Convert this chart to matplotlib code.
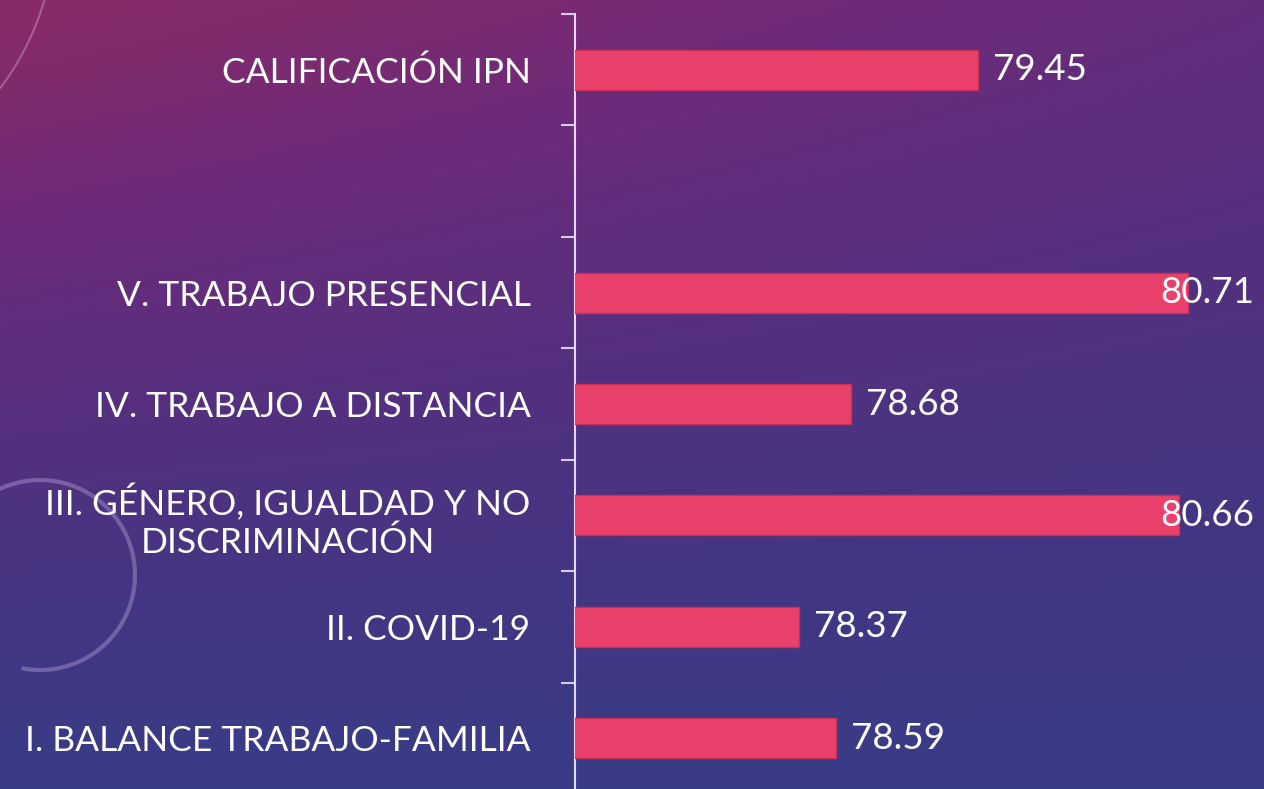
import numpy as np
import matplotlib.pyplot as plt
from matplotlib.colors import LinearSegmentedColormap

categories = ["I. BALANCE TRABAJO-FAMILIA", "II. COVID-19",
              "III. GÉNERO, IGUALDAD Y NO\nDISCRIMINACIÓN",
              "IV. TRABAJO A DISTANCIA", "V. TRABAJO PRESENCIAL", "",
              "CALIFICACIÓN IPN"]
values = [78.59, 78.37, 80.66, 78.68, 80.71, None, 79.45]
labels = ["78.59", "78.37", "80.66", "78.68", "80.71", "", "79.45"]

W, H = 1264, 789
fig = plt.figure(figsize=(W / 100, H / 100), dpi=100)

# background gradient (pixel coordinates)
bg = fig.add_axes([0, 0, 1, 1])
bg.set_axis_off()
ny, nx = 200, 300
yy, xx = np.mgrid[0:1:ny * 1j, 0:1:nx * 1j]
t = np.clip(0.80 * yy + 0.30 * xx * (1 - yy) - 0.03, 0, 1)
cmap = LinearSegmentedColormap.from_list(
    "bg", ["#872a68", "#6c2b7a", "#55307f", "#433683", "#373d88", "#313f8a"])
bg.imshow(t, cmap=cmap, aspect="auto", extent=[0, W, H, 0], vmin=0, vmax=1)
bg.set_xlim(0, W)
bg.set_ylim(H, 0)
# faint decorative arcs
th = np.linspace(np.deg2rad(-100), np.deg2rad(115), 200)
bg.plot(40 + 95 * np.cos(th), 575 - 95 * np.sin(th),
        color="#a99ad0", alpha=0.45, lw=3)
th2 = np.linspace(np.deg2rad(-42), np.deg2rad(-10), 100)
bg.plot(-215 + 270 * np.cos(th2), -75 - 270 * np.sin(th2),
        color="#c8a0d0", alpha=0.45, lw=1.5)

ax = fig.add_axes([575 / W, -5 / H, 1 - 575 / W, 780 / H])
ax.set_facecolor("none")
pos = np.arange(len(categories))
vals = [v if v is not None else 0 for v in values]
ax.barh(pos, vals, height=0.36, color="#e9416b", edgecolor="#c8305a",
        linewidth=1.0, zorder=3)
xmin, xmax = 77.02, 81.17
ax.set_xlim(xmin, xmax)
ax.set_ylim(-0.5, len(categories) - 0.5)

for p, v, lab in zip(pos, values, labels):
    if v is None:
        continue
    xl = v + 0.09
    if xl > 80.546:
        xl = 80.546
    ax.text(xl, p, lab, color="white", fontsize=26.5, va="center", ha="left",
            family="Lato", zorder=4)

ax.set_yticks(pos)
ax.set_yticklabels(categories, fontsize=25.5, color="white", family="Lato",
                   multialignment="center")
ax.tick_params(axis="y", which="major", length=0, pad=32)
ax.set_yticks(np.arange(-0.5, len(categories), 1.0), minor=True)
ax.tick_params(axis="y", which="minor", length=10, width=1.5,
               color="#d8c8ec", direction="out")
ax.set_xticks([])
for s in ["top", "right", "bottom"]:
    ax.spines[s].set_visible(False)
ax.spines["left"].set_color("#e4d8f4")
ax.spines["left"].set_linewidth(1.5)

fig.savefig("out.png", dpi=100)
